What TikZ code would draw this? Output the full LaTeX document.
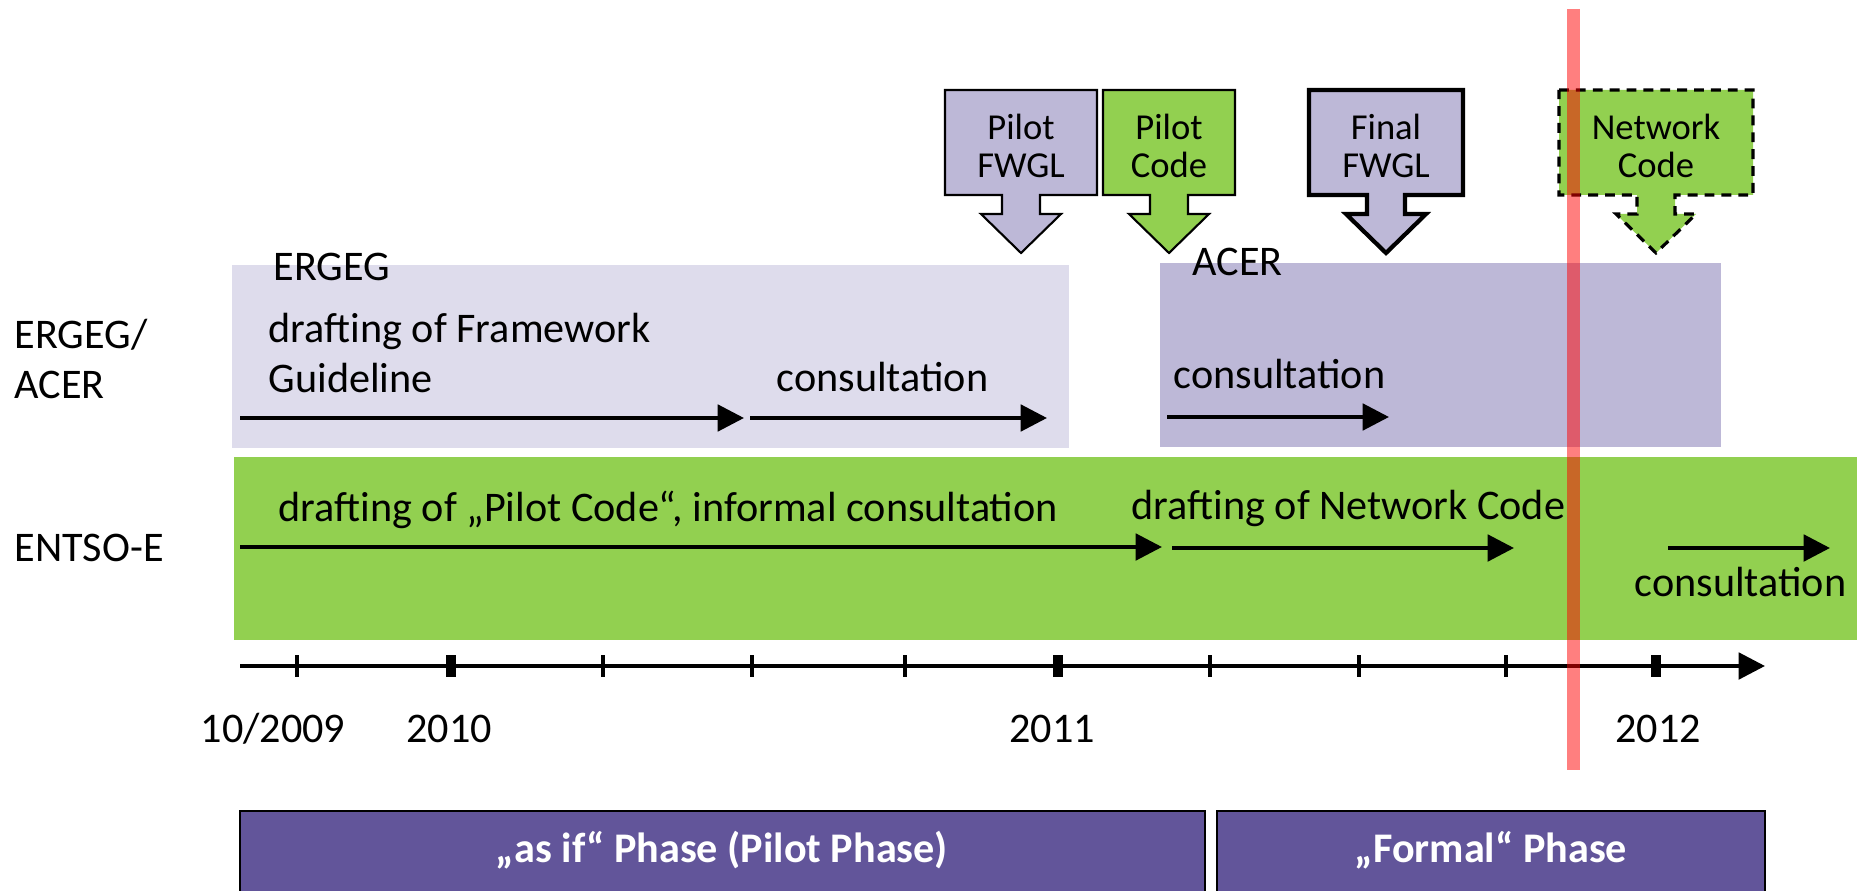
\documentclass[tikz,border=0pt]{standalone}
\usepackage{fontspec}
\setmainfont{Carlito}
\usetikzlibrary{arrows.meta}
\definecolor{ergeg}{RGB}{222,220,236}
\definecolor{acer}{RGB}{189,184,215}
\definecolor{entso}{RGB}{146,208,80}
\definecolor{phase}{RGB}{98,85,154}
\tikzset{
  span/.style={line width=1.15pt,-{Triangle[length=7.5pt,width=7.5pt]}},
  lbl/.style={inner sep=0pt,anchor=base west,font=\fontsize{12}{14.5}\selectfont},
  year/.style={inner sep=0pt,anchor=base,font=\fontsize{12}{14.5}\selectfont},
  calltext/.style={inner sep=0pt,align=center,font=\fontsize{10.4}{10.8}\selectfont},
  pilotdrop/.style={fill=acer,draw=black,line width=0.6pt},
  codedrop/.style={fill=entso,draw=black,line width=0.6pt},
  finaldrop/.style={fill=acer,draw=black,line width=1.2pt},
  netdrop/.style={fill=entso,draw=black,line width=0.9pt,dash pattern=on 2.8pt off 2pt},
  phasebox/.style={fill=phase,draw=black,line width=0.5pt},
  phasetext/.style={inner sep=0pt,anchor=base,text=white,font=\fontsize{12}{14.5}\selectfont\bfseries},
}
% down arrow box: centre x, half width, look
\newcommand{\drop}[3]{%
  \draw[#3] (#1-#2,90) -- (#1+#2,90) -- (#1+#2,195) -- (#1+19,195)
    -- (#1+19,214) -- (#1+40,214) -- (#1,253) -- (#1-40,214)
    -- (#1-19,214) -- (#1-19,195) -- (#1-#2,195) -- cycle;}

\begin{document}
\begin{tikzpicture}[x=0.01cm,y=-0.01cm]
\useasboundingbox (0,0) rectangle (1857,891);
\clip (0,0) rectangle (1857,891);
%
\fill[ergeg] (232,265) rectangle (1069,448);
\fill[acer] (1160,263) rectangle (1721,447);
\fill[entso] (234,457) rectangle (1857,640);
%
\node[lbl] (rowa) at (14,348) {ERGEG/};
\node[lbl] (rowb) at (14,398) {ACER};
\node[lbl] (rowc) at (14,561) {ENTSO-E};
%
\node[lbl] (ergeg) at (273,281) {ERGEG};
\node[lbl] (fwa) at (268,343) {drafting of Framework};
\node[lbl] (fwb) at (268,393) {Guideline};
\node[lbl] (fwcons) at (776,392) {consultation};
\coordinate (fw0) at (240,418); \coordinate (fw1) at (744,418);
\coordinate (fw2) at (750,418); \coordinate (fw3) at (1047,418);
\draw[span] (fw0) -- (fw1);
\draw[span] (fw2) -- (fw3);
%
\node[lbl] (acer) at (1192,275) {ACER};
\node[lbl] (accons) at (1173,388) {consultation};
\coordinate (ac0) at (1167,417); \coordinate (ac1) at (1389,417);
\draw[span] (ac0) -- (ac1);
%
\node[lbl] (pilot) at (278,521) {drafting of „Pilot Code“, informal consultation};
\node[lbl] (netdraft) at (1131,519) {drafting of Network Code};
\node[lbl] (netcons) at (1634,596) {consultation};
\coordinate (en0) at (240,547); \coordinate (en1) at (1162,547);
\coordinate (en2) at (1172,548); \coordinate (en3) at (1514,548);
\coordinate (en4) at (1668,548); \coordinate (en5) at (1830,548);
\draw[span] (en0) -- (en1);
\draw[span] (en2) -- (en3);
\draw[span] (en4) -- (en5);
%
\drop{1021}{76}{pilotdrop}
\drop{1169}{66}{codedrop}
\drop{1386}{77}{finaldrop}
\drop{1656}{97}{netdrop}
\node[calltext] (pfwgl) at (1021,146) {Pilot\\FWGL};
\node[calltext] (pcode) at (1169,146) {Pilot\\Code};
\node[calltext] (ffwgl) at (1386,146) {Final\\FWGL};
\node[calltext] (ncode) at (1656,146) {Network\\Code};
%
\coordinate (t0) at (240,666); \coordinate (t1) at (1765,666);
\draw[span] (t0) -- (t1);
\foreach \t in {297,603,752,905,1210,1359,1506}
  \draw[line width=1.4pt] (\t,655) -- (\t,677);
\foreach \t in {451,1058,1656}
  \draw[line width=2.6pt] (\t,655) -- (\t,677);
\node[year] (y09) at (273,742) {10/2009};
\node[year] (y10) at (449,742) {2010};
\node[year] (y11) at (1052,742) {2011};
\node[year] (y12) at (1658,742) {2012};
%
\draw[phasebox] (240,811) rectangle (1205,910);
\draw[phasebox] (1217,811) rectangle (1765,910);
\node[phasetext] (asif) at (722,862) {„as if“ Phase (Pilot Phase)};
\node[phasetext] (formal) at (1491,862) {„Formal“ Phase};
%
\coordinate (now0) at (1573,9); \coordinate (now1) at (1573,770);
\draw[red,opacity=0.5,line width=3.7pt] (now0) -- (now1);
\end{tikzpicture}
\end{document}
